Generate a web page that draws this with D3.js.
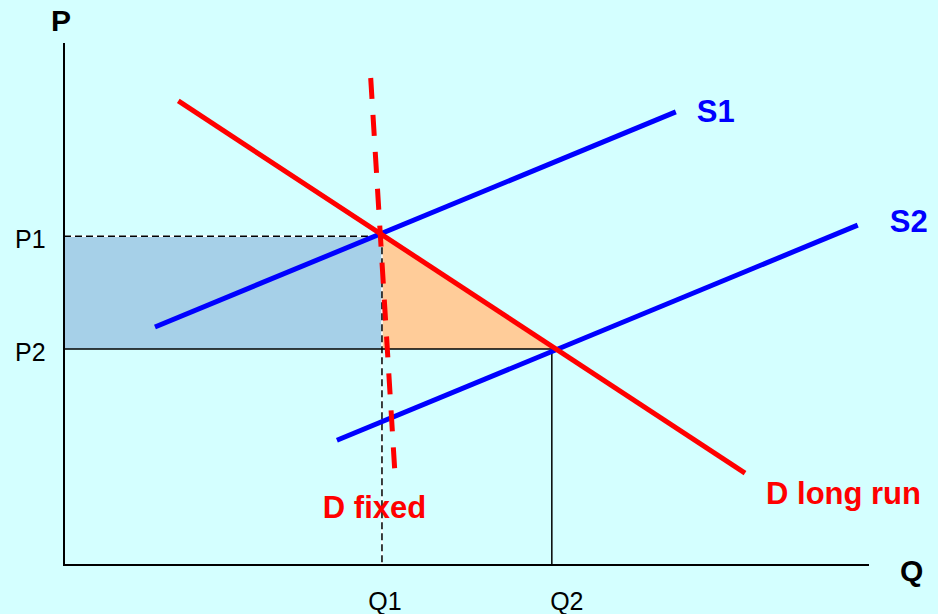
<!DOCTYPE html>
<html>
<head>
<meta charset="utf-8">
<script src="https://cdn.jsdelivr.net/npm/d3@7"></script>
<style>
  html, body { margin: 0; padding: 0; background: #d4ffff; }
  svg { display: block; }
</style>
</head>
<body>
<div id="chart"></div>
<script>
// Supply & demand: fixed vs long run demand

// Equilibrium points (quantity, price) on a 0-10 scale
var qLevels = [3.95, 6.06];          // Q1, Q2
var pLevels = [6.30, 4.14];          // P1, P2
var qLabels = ["Q1", "Q2"];
var pLabels = ["P1", "P2"];

// Curves, each as two end points [q, p]
var curveNames = ["S1", "S2", "D long run", "D fixed"];
var curveStart = [[1.13, 4.56], [3.39, 2.39], [1.42, 8.89], [3.81, 9.33]];
var curveEnd   = [[7.60, 8.68], [9.86, 6.51], [8.46, 1.76], [4.11, 1.78]];

var width = 938, height = 614;

var svg = d3.select("#chart")
    .append("svg")
    .attr("width", width)
    .attr("height", height);

svg.append("rect")
    .attr("width", width)
    .attr("height", height)
    .attr("fill", "#d4ffff");

// Scales
var x = d3.scaleLinear().domain([0, 10]).range([64, 869]);
var y = d3.scaleLinear().domain([0, 10]).range([565, 43]);

var q1 = qLevels[0], q2 = qLevels[1];
var p1 = pLevels[0], p2 = pLevels[1];

// Blue rectangle (revenue at P1 up to Q1)
svg.append("rect")
    .attr("x", x(0))
    .attr("y", y(p1))
    .attr("width", x(q1) - x(0))
    .attr("height", y(p2) - y(p1))
    .attr("fill", "#a6d0e8");

// Orange triangle
var line = d3.line()
    .x(d => x(d[0]))
    .y(d => y(d[1]));

svg.append("path")
    .datum([[q1, p1], [q2, p2], [q1, p2]])
    .attr("d", line)
    .attr("fill", "#ffcc99");

// Dashed guides for P1 / Q1 (white underneath, black dashes)
var dashed = [
    [[0, p1], [q1, p1]],
    [[q1, p1], [q1, 0]]
];
dashed.forEach(function (seg) {
    svg.append("path")
        .datum(seg)
        .attr("d", line)
        .attr("stroke", "white")
        .attr("stroke-width", 1.5)
        .attr("fill", "none");
    svg.append("path")
        .datum(seg)
        .attr("d", line)
        .attr("stroke", "black")
        .attr("stroke-width", 1.5)
        .attr("stroke-dasharray", "7,4")
        .attr("fill", "none");
});

// Solid guides for P2 / Q2
var solid = [
    [[0, p2], [q2, p2]],
    [[q2, p2], [q2, 0]]
];
solid.forEach(function (seg) {
    svg.append("path")
        .datum(seg)
        .attr("d", line)
        .attr("stroke", "black")
        .attr("stroke-width", 1.5)
        .attr("fill", "none");
});

// Axes (plain L shape)
svg.append("path")
    .datum([[0, 10], [0, 0], [10, 0]])
    .attr("d", line)
    .attr("stroke", "black")
    .attr("stroke-width", 2)
    .attr("fill", "none");

svg.append("text")
    .attr("x", x(0) - 13)
    .attr("y", 31)
    .text("P")
    .attr("font-family", "Liberation Sans, Arial, sans-serif")
    .attr("font-weight", "bold")
    .attr("font-size", "30px");

svg.append("text")
    .attr("x", x(10) + 31)
    .attr("y", 581)
    .text("Q")
    .attr("font-family", "Liberation Sans, Arial, sans-serif")
    .attr("font-weight", "bold")
    .attr("font-size", "30px");

// Price labels
pLevels.forEach(function (p, i) {
    svg.append("text")
        .attr("x", 15)
        .attr("y", y(p) + 12)
        .text(pLabels[i])
        .attr("font-family", "Liberation Sans, Arial, sans-serif")
        .attr("font-size", "25px");
});

// Quantity labels
var qOffsets = [3, 15];
qLevels.forEach(function (q, i) {
    svg.append("text")
        .attr("x", x(q) + qOffsets[i])
        .attr("y", 610)
        .text(qLabels[i])
        .attr("font-family", "Liberation Sans, Arial, sans-serif")
        .attr("font-size", "25px")
        .style("text-anchor", "middle");
});

// Curves
var colors = ["#0000ff", "#0000ff", "#ff0000", "#ff0000"];
var dashes = [null, null, null, "21,16"];
var labelDx = [21, 32, 21, -72];
var labelDy = [10, 7, 31, 46];

for (var i = 0; i < curveNames.length; i++) {
    svg.append("path")
        .datum([curveStart[i], curveEnd[i]])
        .attr("d", line)
        .attr("stroke", colors[i])
        .attr("stroke-width", 5)
        .attr("stroke-dasharray", dashes[i])
        .attr("fill", "none");

    svg.append("text")
        .attr("x", x(curveEnd[i][0]) + labelDx[i])
        .attr("y", y(curveEnd[i][1]) + labelDy[i])
        .text(curveNames[i])
        .attr("fill", colors[i])
        .attr("font-family", "Liberation Sans, Arial, sans-serif")
        .attr("font-weight", "bold")
        .attr("font-size", "31px");
}
</script>
</body>
</html>
